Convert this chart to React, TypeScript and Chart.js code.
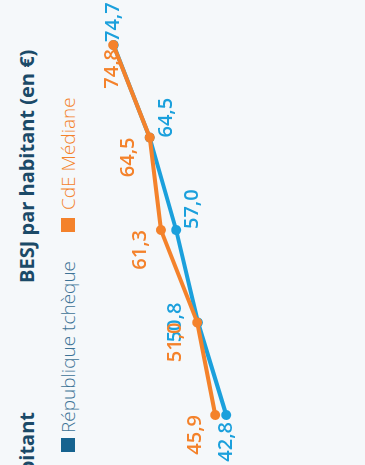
import React, { useEffect, useRef } from "react";
import { Chart, registerables } from "chart.js";

Chart.register(...registerables);

// ---- data ----
const categories = ["2010", "2012", "2014", "2016", "2018"];
const czechValues = [42.8, 50.8, 57.0, 64.5, 74.7];
const medianValues = [45.9, 51.0, 61.3, 64.5, 74.8];
const seriesNames = ["République tchèque", "CdE Médiane"];
const titleText = "BESJ par habitant (en €)";
const neighbourTitle = "Budget du système judiciaire par habitant";

// ---- style ----
const BG = "#f5f8fa";
const BLUE = "#1ba0dc";
const ORANGE = "#f4822b";
const TITLE_COLOR = "#1b4a68";
const LEGEND_BLUE_SQ = "#16638f";
const LEGEND_BLUE_TXT = "#3d7396";
const FONT = '"Open Sans", "Noto Sans", sans-serif';

// label placement per dataset / point: [textAlign, dx, dy]
const labelPlacements: [CanvasTextAlign, number, number][][] = [
  [["right", -7, 0], ["center", 0, -23], ["left", 1, 16], ["left", 0, 17], ["left", 3, 0]],
  [["right", 0, -20], ["right", 0, -22], ["right", 0, -21], ["right", 0, -21], ["right", -4, -1]],
];

const fmt = (v: number) => v.toFixed(1).replace(".", ",");

const labelPlugin = {
  id: "pointLabels",
  afterDatasetDraw(chart: any, args: any) {
    const ctx = chart.ctx;
    const i = args.index;
    const ds = chart.data.datasets[i];
    const meta = args.meta;
    ctx.save();
    ctx.font = `600 20px ${FONT}`;
    ctx.fillStyle = ds.borderColor;
    ctx.textBaseline = "middle";
    meta.data.forEach((pt: any, j: number) => {
      const [align, dx, dy] = labelPlacements[i][j];
      ctx.textAlign = align;
      ctx.fillText(fmt(ds.data[j]), pt.x + dx, pt.y + dy);
    });
    ctx.restore();
  },
};

export default function App() {
  const ref = useRef<HTMLCanvasElement>(null);
  useEffect(() => {
    if (!ref.current) return;
    const chart = new Chart(ref.current, {
      type: "line",
      data: {
        labels: categories,
        datasets: [
          {
            label: seriesNames[0],
            data: czechValues,
            borderColor: BLUE,
            backgroundColor: BLUE,
            borderWidth: 4,
            pointRadius: 5,
            pointBorderWidth: 0,
            pointBackgroundColor: BLUE,
            tension: 0,
            clip: false as any,
            order: 1,
          },
          {
            label: seriesNames[1],
            data: medianValues,
            borderColor: ORANGE,
            backgroundColor: ORANGE,
            borderWidth: 4,
            pointRadius: 5,
            pointBorderWidth: 0,
            pointBackgroundColor: ORANGE,
            tension: 0,
            clip: false as any,
            order: 0,
          },
        ],
      },
      options: {
        responsive: false,
        animation: false,
        layout: { padding: { left: 50, right: 45, top: 95, bottom: 23 } },
        plugins: {
          legend: { display: false },
          title: { display: false },
          tooltip: { enabled: false },
        },
        scales: {
          x: { display: false, offset: false },
          y: { display: false, min: 10, max: 80 },
        },
      },
      plugins: [labelPlugin],
    });
    return () => chart.destroy();
  }, []);

  const titleStyle: React.CSSProperties = {
    position: "absolute",
    top: 16,
    fontSize: 20,
    fontWeight: 700,
    lineHeight: "22px",
    color: TITLE_COLOR,
    whiteSpace: "nowrap",
  };
  const legendStyle: React.CSSProperties = {
    position: "absolute",
    top: 57,
    display: "flex",
    alignItems: "center",
    fontSize: 19,
    fontWeight: 300,
    lineHeight: "22px",
    whiteSpace: "nowrap",
  };

  return (
    <div
      style={{
        position: "fixed",
        left: 0,
        top: 0,
        width: 365,
        height: 465,
        overflow: "hidden",
        background: BG,
      }}
    >
      <div
        style={{
          position: "absolute",
          left: 0,
          top: 0,
          width: 465,
          height: 365,
          transformOrigin: "0 0",
          transform: "translateY(465px) rotate(-90deg)",
          fontFamily: FONT,
        }}
      >
        <div style={{ ...titleStyle, right: 465 - 53 }}>{neighbourTitle}</div>
        <div style={{ ...titleStyle, left: 182 }}>{titleText}</div>
        <div style={{ ...legendStyle, left: 13, color: LEGEND_BLUE_TXT }}>
          <span style={{ width: 14, height: 14, background: LEGEND_BLUE_SQ, display: "inline-block", marginRight: 5 }} />
          <span>{seriesNames[0]}</span>
        </div>
        <div style={{ ...legendStyle, left: 233, color: ORANGE }}>
          <span style={{ width: 14, height: 14, background: ORANGE, display: "inline-block", marginRight: 8 }} />
          <span>{seriesNames[1]}</span>
        </div>
        <canvas
          ref={ref}
          width={465}
          height={365}
          style={{ position: "absolute", left: 0, top: 0, width: 465, height: 365 }}
        />
      </div>
    </div>
  );
}
